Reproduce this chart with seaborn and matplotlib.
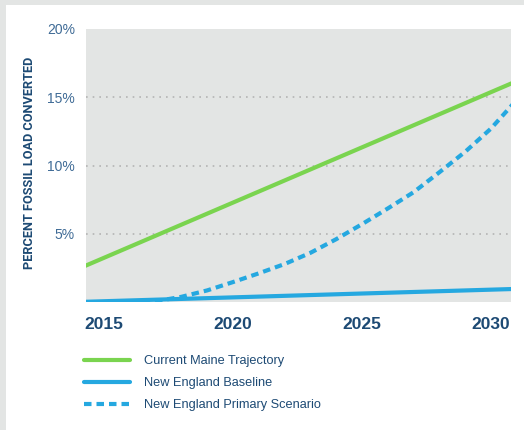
import numpy as np
import pandas as pd
import matplotlib
matplotlib.use("Agg")
import matplotlib.pyplot as plt
from matplotlib.patches import Rectangle
import seaborn as sns

# data (percent of fossil load converted)
maine_years = [2014, 2031]
maine_values = [2.43, 16.18]

baseline_years = [2014, 2031]
baseline_values = [0.0, 0.96]

scenario_years = [2016, 2017, 2018, 2019, 2020, 2021, 2022, 2023, 2024,
                  2025, 2026, 2027, 2028, 2029, 2030, 2031]
scenario_values = [0.0, 0.05, 0.38, 0.85, 1.46, 2.1, 2.78, 3.6, 4.6,
                   5.7, 6.85, 8.04, 9.5, 11.0, 12.7, 14.8]

x_ticks = [2015, 2020, 2025, 2030]
y_ticks = [5, 10, 15, 20]
y_tick_labels = ["5%", "10%", "15%", "20%"]

GREEN = "#7ad44f"
BLUE = "#25a8e0"
NAVY = "#1d4a74"
TICK_BLUE = "#3f6b96"
PLOT_BG = "#e3e5e4"
OUTER_BG = "#e3e5e4"

sns.set_style("white")
plt.rcParams["font.family"] = ["Liberation Sans", "DejaVu Sans"]

fig = plt.figure(figsize=(5.24, 4.30), dpi=100, facecolor=OUTER_BG)
fig.patches.append(Rectangle((6 / 524, 0), 1, 1 - 5 / 430,
                             transform=fig.transFigure, facecolor="white",
                             edgecolor="none", zorder=-10))

ax = fig.add_axes([86 / 524, 1 - 302 / 430, 425 / 524, 273 / 430])
ax.set_facecolor(PLOT_BG)

maine = pd.DataFrame({"year": maine_years, "pct": maine_values})
base = pd.DataFrame({"year": baseline_years, "pct": baseline_values})
scen = pd.DataFrame({"year": scenario_years, "pct": scenario_values})

sns.lineplot(data=maine, x="year", y="pct", ax=ax, color=GREEN, lw=3.0,
             label="Current Maine Trajectory", zorder=3)
sns.lineplot(data=base, x="year", y="pct", ax=ax, color=BLUE, lw=3.0,
             label="New England Baseline", zorder=3)
sns.lineplot(data=scen, x="year", y="pct", ax=ax, color=BLUE, lw=3.0,
             label="New England Primary Scenario", zorder=4)
ax.lines[-1].set_dashes([1.8, 1.2])
ax.lines[-1].set_dash_capstyle("butt")

ax.set_xlim(2014.3, 2030.78)
ax.set_ylim(0, 20)

for y in [5, 10, 15]:
    ax.axhline(y, color="#b3b3b3", lw=1.2, ls=(0, (1, 3)), zorder=1)

ax.set_xticks(x_ticks)
ax.set_xticklabels([str(t) for t in x_ticks], fontsize=12.5,
                   fontweight="bold", color=NAVY)
ax.set_yticks(y_ticks)
ax.set_yticklabels(y_tick_labels, fontsize=10, color=TICK_BLUE)
ax.tick_params(axis="both", length=0)
ax.tick_params(axis="x", pad=11)
ax.tick_params(axis="y", pad=8)
for s in ax.spines.values():
    s.set_visible(False)

ax.set_xlabel("")
ax.set_ylabel("PERCENT FOSSIL LOAD CONVERTED", fontsize=9.2,
              fontweight="bold", color=NAVY, family=["Roboto", "DejaVu Sans"])
ax.yaxis.set_label_coords(-0.118, 0.51)

handles, labels = ax.get_legend_handles_labels()
ax.legend_.remove()
leg = fig.legend(handles, labels, loc="upper left",
                 bbox_to_anchor=(84 / 524, 1 - 355 / 430), frameon=False,
                 fontsize=9.2, handlelength=3.6, handletextpad=1.1,
                 labelspacing=0.8, borderpad=0, borderaxespad=0)
for t in leg.get_texts():
    t.set_color(NAVY)

fig.savefig("out.png", dpi=100, facecolor=fig.get_facecolor())
